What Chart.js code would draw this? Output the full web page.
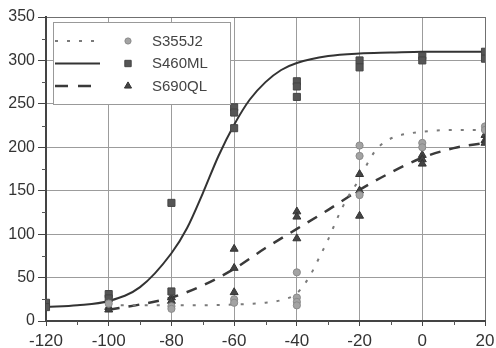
<!DOCTYPE html>
<html>
<head>
<meta charset="utf-8">
<style>
  html, body { margin: 0; padding: 0; background: #fff; }
  #wrap { width: 496px; height: 348px; }
</style>
<script src="https://cdn.jsdelivr.net/npm/chart.js@4.4.1/dist/chart.umd.min.js"></script>
</head>
<body>
<div id="wrap"><canvas id="chart" width="496" height="348"></canvas></div>
<script>
const seriesNames = ['S355J2', 'S460ML', 'S690QL'];

const xTicks = [-120, -100, -80, -60, -40, -20, 0, 20];
const yTicks = [0, 50, 100, 150, 200, 250, 300, 350];
const xMinor = [-110, -90, -70, -50, -30, -10, 10];
const yMinor = [25, 75, 125, 175, 225, 275, 325];

// test results (temperature, energy)
const s355T = [-100, -80, -80, -60, -60, -40, -40, -40, -40, -20, -20, -20, 0, 0, 20, 20];
const s355E = [20, 17, 14, 25, 21, 56, 27, 22, 18, 202, 190, 145, 205, 200, 224, 220];

const s460T = [-120, -120, -100, -100, -80, -80, -60, -60, -60, -40, -40, -40, -20, -20, 0, 0, 20, 20];
const s460E = [21, 16, 31, 26, 136, 34, 246, 240, 222, 276, 270, 258, 300, 292, 305, 300, 310, 302];

const s690T = [-100, -100, -80, -80, -60, -60, -60, -40, -40, -40, -20, -20, -20, 0, 0, 0, 20, 20, 20];
const s690E = [16, 13, 27, 23, 83, 61, 33, 126, 120, 95, 169, 150, 121, 191, 186, 181, 214, 208, 205];

// transition curves
const s355CurveT = [-100, -80, -60, -50, -45, -40, -36, -33, -30, -27, -24, -21, -18, -15, -12, -8, -4, 0, 10, 20];
const s355CurveE = [18, 18, 19, 21, 24, 32, 51, 72, 94, 119, 141, 158, 178, 196, 206, 213, 216, 218, 220, 220];

const s460CurveT = [-120, -110, -100, -90, -80, -75, -70, -65, -60, -55, -50, -45, -40, -30, -20, -10, 0, 10, 20];
const s460CurveE = [16, 18, 23, 39, 78, 107, 147, 190, 226, 255, 275, 289, 297, 305, 308, 309, 310, 310, 310];

const s690CurveT = [-100, -90, -80, -70, -60, -50, -40, -30, -20, -10, 0, 10, 20];
const s690CurveE = [13, 19, 27, 41, 60, 84, 106, 128, 151, 171, 188, 199, 205];

const pairs = (xs, ys) => xs.map((x, i) => ({ x, y: ys[i] }));

const FONT = '"Liberation Sans", Arial, Helvetica, sans-serif';

const markers = [
  { pointStyle: 'circle', pointRadius: 3.6, backgroundColor: '#a3a3a3', borderColor: '#8a8a8a' },
  { pointStyle: 'rect', pointRadius: 5, backgroundColor: '#555', borderColor: '#444' },
  { pointStyle: 'triangle', pointRadius: 4.6, backgroundColor: '#444', borderColor: '#333' },
];
const curves = [
  { borderColor: '#7a7a7a', borderWidth: 2, borderDash: [3, 9] },
  { borderColor: '#333', borderWidth: 2, borderDash: [] },
  { borderColor: '#3a3a3a', borderWidth: 2.5, borderDash: [11, 9] },
];

const pointData = [pairs(s355T, s355E), pairs(s460T, s460E), pairs(s690T, s690E)];
const curveData = [pairs(s355CurveT, s355CurveE), pairs(s460CurveT, s460CurveE), pairs(s690CurveT, s690CurveE)];

const datasets = [];
seriesNames.forEach((name, i) => {
  datasets.push({
    label: name,
    data: pointData[i],
    showLine: false,
    borderWidth: 1,
    ...markers[i],
    order: 0,
  });
});
seriesNames.forEach((name, i) => {
  datasets.push({
    type: 'line',
    label: name + ' curve',
    data: curveData[i],
    showLine: true,
    fill: false,
    pointRadius: 0,
    cubicInterpolationMode: 'monotone',
    ...curves[i],
    order: 1,
  });
});

// small ticks between the labelled ones
const minorTicks = {
  id: 'minorTicks',
  afterDraw(chart) {
    const { ctx, chartArea: a } = chart;
    const x = chart.scales.x, y = chart.scales.y;
    ctx.save();
    ctx.strokeStyle = '#555';
    ctx.lineWidth = 1;
    ctx.beginPath();
    xMinor.forEach((v) => {
      const px = Math.round(x.getPixelForValue(v)) + 0.5;
      ctx.moveTo(px, a.bottom);
      ctx.lineTo(px, a.bottom + 4);
    });
    yMinor.forEach((v) => {
      const py = Math.round(y.getPixelForValue(v)) + 0.5;
      ctx.moveTo(a.left - 4, py);
      ctx.lineTo(a.left, py);
    });
    ctx.stroke();
    ctx.restore();
  },
};

// legend box: line sample, marker, name
const legendBox = {
  id: 'legendBox',
  afterDraw(chart) {
    const ctx = chart.ctx;
    const box = { left: 53.5, top: 22.5, w: 177, h: 82 };
    const rows = [41, 63.5, 86];
    ctx.save();
    ctx.fillStyle = '#fff';
    ctx.fillRect(box.left, box.top, box.w, box.h);
    ctx.strokeStyle = '#999';
    ctx.lineWidth = 1;
    ctx.strokeRect(box.left, box.top, box.w, box.h);

    seriesNames.forEach((name, i) => {
      const yy = rows[i];
      const c = curves[i];
      ctx.strokeStyle = c.borderColor;
      ctx.lineWidth = c.borderWidth;
      ctx.setLineDash(i === 2 ? [13, 10] : c.borderDash);
      ctx.beginPath();
      ctx.moveTo(55, yy);
      ctx.lineTo(100, yy);
      ctx.stroke();
      ctx.setLineDash([]);

      const m = markers[i];
      ctx.fillStyle = m.backgroundColor;
      ctx.strokeStyle = m.borderColor;
      ctx.lineWidth = 1;
      if (Chart.helpers && Chart.helpers.drawPoint) {
        Chart.helpers.drawPoint(ctx, { pointStyle: m.pointStyle, radius: m.pointRadius - 0.5, rotation: 0, borderWidth: 1 }, 128, yy);
      }

      ctx.fillStyle = '#444';
      ctx.font = '15px ' + FONT;
      ctx.textBaseline = 'middle';
      ctx.textAlign = 'left';
      ctx.fillText(name, 152, yy + 0.5);
    });
    ctx.restore();
  },
};

const gridColor = (edge) => (ctx) => (ctx.tick && ctx.tick.value === edge ? '#707070' : '#9c9c9c');

new Chart(document.getElementById('chart'), {
  type: 'scatter',
  data: { datasets },
  options: {
    responsive: false,
    animation: false,
    events: [],
    layout: { padding: { top: 17, right: 11, bottom: 0, left: 0 } },
    plugins: { legend: { display: false }, tooltip: { enabled: false } },
    scales: {
      x: {
        type: 'linear',
        min: -120,
        max: 20,
        afterBuildTicks: (s) => { s.ticks = xTicks.map((v) => ({ value: v })); },
        ticks: { color: '#333', font: { family: FONT, size: 17 }, padding: 5, maxRotation: 0, autoSkip: false },
        grid: { color: gridColor(20), tickColor: '#444', tickLength: 5, lineWidth: 1 },
        border: { color: '#444', width: 2 },
        afterFit: (s) => { s.height = 27; s.paddingLeft = 0; s.paddingRight = 0; },
      },
      y: {
        type: 'linear',
        min: 0,
        max: 350,
        afterBuildTicks: (s) => { s.ticks = yTicks.map((v) => ({ value: v })); },
        ticks: { color: '#333', font: { family: FONT, size: 16 }, padding: 3, autoSkip: false },
        grid: { color: gridColor(350), tickColor: '#444', tickLength: 8, lineWidth: 1 },
        border: { color: '#444', width: 2 },
        afterFit: (s) => { s.width = 46; s.paddingTop = 0; s.paddingBottom = 0; },
      },
    },
  },
  plugins: [minorTicks, legendBox],
});
</script>
</body>
</html>
